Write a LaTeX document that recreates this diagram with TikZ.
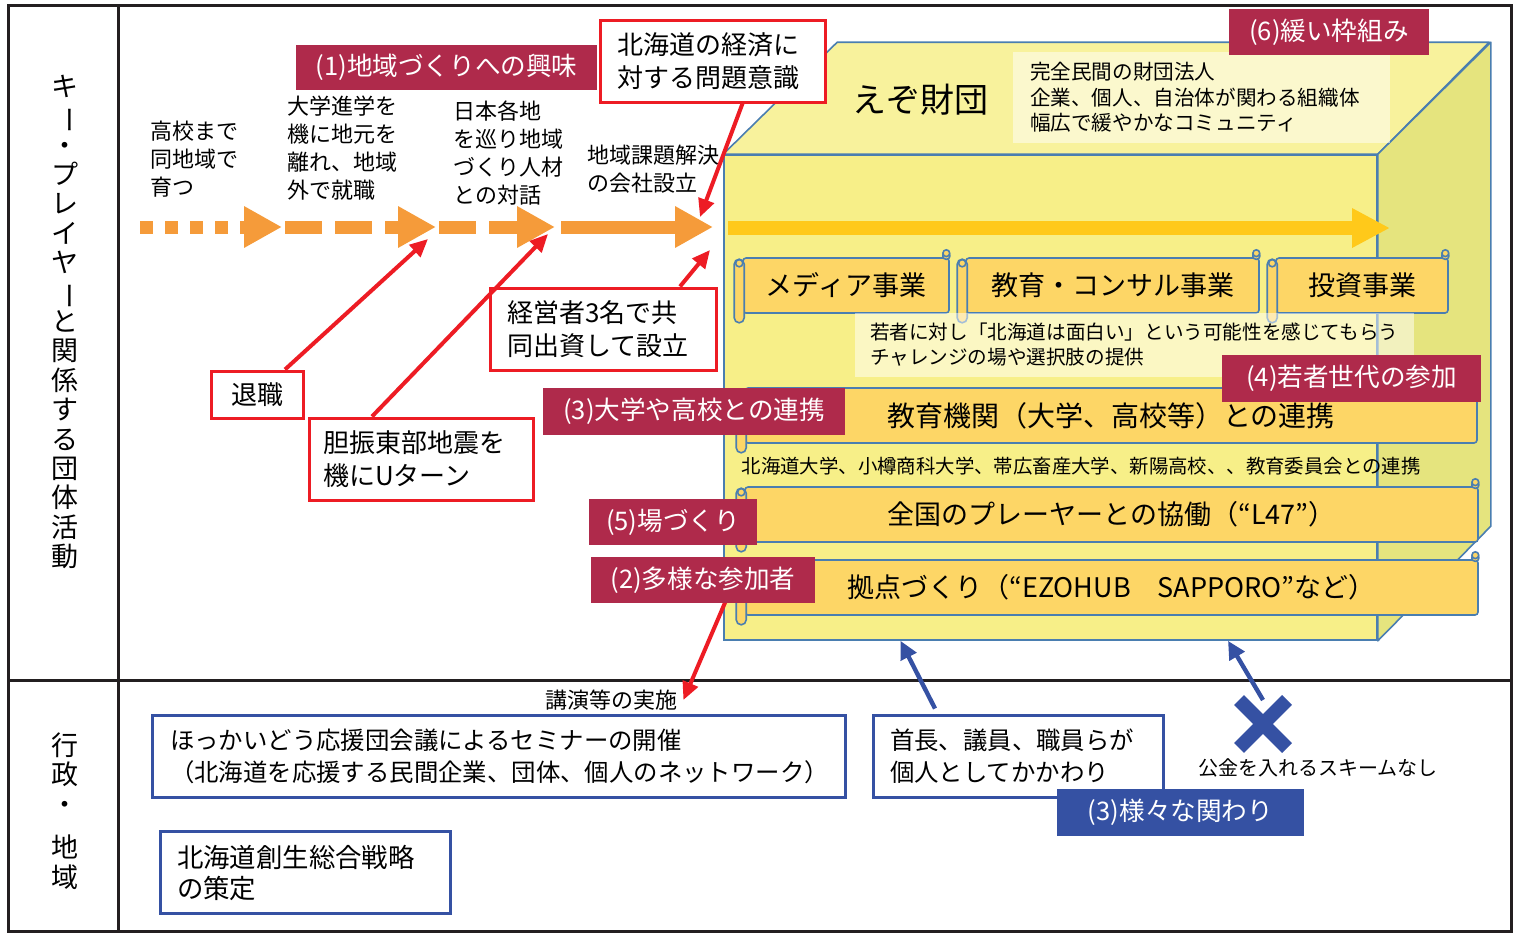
\documentclass[tikz,border=0pt]{standalone}
\usepackage{fontspec}
\setmainfont{Noto Sans CJK JP}
\usepackage{graphicx}
\usepackage{tikz}
\usetikzlibrary{arrows.meta, shapes.misc}
\usepackage{xcolor}
\definecolor{FrameBlack}{RGB}{35, 31, 32}
\definecolor{FlowOrange}{RGB}{245, 155, 58}
\definecolor{TagRed}{RGB}{175, 42, 75}
\definecolor{KeyRed}{RGB}{237, 28, 36}
\definecolor{GovBlue}{RGB}{53, 81, 163}
\definecolor{EdgeBlue}{RGB}{74, 126, 176}
\definecolor{FrontYellow}{RGB}{247, 239, 136}
\definecolor{TopYellow}{RGB}{248, 242, 156}
\definecolor{SideYellow}{RGB}{229, 228, 126}
\definecolor{ScrollGold}{RGB}{253, 214, 102}
\definecolor{ArrowGold}{RGB}{255, 201, 26}
\newcommand{\fsize}[2]{\fontsize{#1}{#2}\selectfont}
\newcommand{\vchoon}{\rotatebox[origin=c]{-90}{ー}}
\newcommand{\scrollends}[1]{%
  \draw [scroll_part, rounded corners=2.5pt]
    ([xshift=-4pt, yshift=-1pt]#1.north west)
    rectangle
    ([xshift=1pt, yshift=-4.5pt]#1.south west);
  \draw [scroll_part]
    ([xshift=-1.5pt, yshift=-3pt]#1.north west) circle (1.8pt);
  \draw [scroll_part, rounded corners=1.5pt]
    ([xshift=-3.5pt, yshift=-1pt]#1.north east)
    rectangle
    ([yshift=2.5pt]#1.north east);
  \draw [scroll_part]
    ([xshift=-1.75pt, yshift=2pt]#1.north east) circle (1.7pt);
}
\tikzset{%
  frame_line/.style={%
    draw=FrameBlack,%
    line width=1.5pt,%
  },
  side_label/.style={%
    align=center,%
    inner sep=0pt,%
    font={\fsize{13.5}{14.7}},%
  },
  flow_text/.style={%
    anchor=west,%
    align=left,%
    inner sep=0pt,%
    font={\fsize{11}{14}},%
  },
  flow_arrow/.style={%
    draw=FlowOrange,%
    line width=6.5pt,%
    -{Triangle[length=19pt, width=19.5pt]},%
  },
  gold_arrow/.style={%
    draw=ArrowGold,%
    line width=7pt,%
    -{Triangle[length=19pt, width=18.5pt]},%
  },
  box_front/.style={%
    rectangle,%
    draw=EdgeBlue,%
    line width=0.8pt,%
    fill=FrontYellow,%
    minimum width=326.5pt,%
    minimum height=242.5pt,%
    inner sep=0pt,%
  },
  box_face/.style={%
    draw=EdgeBlue,%
    line width=0.8pt,%
    line join=round,%
  },
  note_box/.style={%
    rectangle,%
    fill=white,%
    fill opacity=0.5,%
    text opacity=1,%
    align=left,%
    inner ysep=0pt,%
  },
  scroll_body/.style={%
    rectangle,%
    rounded corners=1.5pt,%
    draw=EdgeBlue,%
    line width=0.8pt,%
    fill=ScrollGold,%
    minimum height=27.5pt,%
    inner sep=0pt,%
    font={\fsize{13.5}{16}},%
  },
  scroll_part/.style={%
    draw=EdgeBlue,%
    line width=0.8pt,%
    fill=ScrollGold,%
  },
  theme_tag/.style={%
    rectangle,%
    fill=TagRed,%
    text=white,%
    inner sep=0pt,%
    font={\fsize{12.8}{15}},%
  },
  gov_tag/.style={%
    theme_tag,%
    fill=GovBlue,%
  },
  key_box/.style={%
    rectangle,%
    draw=KeyRed,%
    line width=1.5pt,%
    fill=white,%
    align=left,%
    inner ysep=0pt,%
    font={\fsize{13}{16.5}},%
  },
  gov_box/.style={%
    rectangle,%
    draw=GovBlue,%
    line width=1.5pt,%
    fill=white,%
    align=left,%
    inner ysep=0pt,%
    minimum height=41pt,%
    font={\fsize{12.2}{16}},%
  },
  key_arrow/.style={%
    draw=KeyRed,%
    line width=2pt,%
    -{Triangle[length=9pt, width=8pt]},%
  },
  gov_arrow/.style={%
    draw=GovBlue,%
    line width=2.2pt,%
    -{Triangle[length=9pt, width=8.5pt]},%
  },
  refusal_mark/.style={%
    cross out,%
    draw=GovBlue,%
    line width=7pt,%
    minimum size=17pt,%
    inner sep=0pt,%
  },
  small_note/.style={%
    inner sep=0pt,%
    font={\fsize{10}{12}},%
  },
}

\begin{document}
\begin{tikzpicture}[x=0.5pt, y=-0.5pt]
  \useasboundingbox (0, 0) rectangle (1519, 933);

  \draw [frame_line] (8, 5) rectangle (1511, 931);
  \draw [frame_line] (118, 5) -- (118, 931);
  \draw [frame_line] (8, 680) -- (1511, 680);

  \node [side_label] (KeyLabel) at (65, 322)
    {キ\\\vchoon\\・\\プ\\レ\\イ\\ヤ\\\vchoon\\と\\関\\係\\す\\る\\団\\体\\活\\動};
  \node [side_label] (GovLabel) at (65, 811) {行\\政\\・\\[7pt]地\\域};

  \node [flow_text] (StepHome) at (150, 159) {高校まで\\同地域で\\育つ};
  \node [flow_text] (StepLeave) at (287, 148) {大学進学を\\機に地元を\\離れ、地域\\外で就職};
  \node [flow_text] (StepTalk) at (453, 153.5) {日本各地\\を巡り地域\\づくり人材\\との対話};
  \node [flow_text] (StepFound) at (587, 169.5) {地域課題解決\\の会社設立};

  \coordinate (FlowStart) at (140, 227);
  \coordinate (FlowA) at (282, 227);
  \coordinate (FlowB) at (436, 227);
  \coordinate (FlowC) at (555, 227);
  \coordinate (FlowD) at (713, 227);

  \draw [flow_arrow, dash pattern=on 6.5pt off 6pt] (FlowStart) -- (FlowA);
  \draw [flow_arrow, dash pattern=on 18.5pt off 6.5pt] ([xshift=1.5pt]FlowA) -- (FlowB);
  \draw [flow_arrow, dash pattern=on 18.5pt off 6.5pt] ([xshift=1.5pt]FlowB) -- (FlowC);
  \draw [flow_arrow] ([xshift=3pt]FlowC) -- (FlowD);

  \node [box_front] (EzoFront) at (1050.5, 397.5) {};
  \draw [box_face, fill=TopYellow]
    (EzoFront.north west)
    -- ++(114, -112)
    -- ++(652, 0)
    -- (EzoFront.north east)
    -- cycle;
  \draw [box_face, fill=SideYellow]
    (EzoFront.north east)
    -- ++(113, -112)
    -- ++(0, 484)
    -- (EzoFront.south east)
    -- cycle;

  \node [note_box, inner xsep=8.5pt, text width=171.5pt, minimum height=45.5pt,
    font={\fsize{10.3}{12.8}}] (FoundationNote) at (1201.5, 97.5)
    {完全民間の財団法人\\企業、個人、自治体が関わる組織体\\幅広で緩やかなコミュニティ};
  \node [font={\fsize{17}{20}}] (EzoTitle) at (920, 100) {えぞ財団};

  \coordinate (GoldStart) at (728, 228);
  \coordinate (GoldEnd) at (1390, 228);
  \draw [gold_arrow] (GoldStart) -- (GoldEnd);

  \node [scroll_body, minimum width=103pt] (Media) at (846, 285.5) {メディア事業};
  \scrollends{Media}
  \node [scroll_body, minimum width=146.5pt] (Consult) at (1112.5, 285.5) {教育・コンサル事業};
  \scrollends{Consult}
  \node [scroll_body, minimum width=86pt] (InvestBiz) at (1362, 285.5) {投資事業};
  \scrollends{InvestBiz}
  \node [scroll_body, minimum width=366pt, font={\fsize{14}{16}}] (School) at (1111, 415.5)
    {教育機関（大学、高校等）との連携};
  \scrollends{School}
  \node [scroll_body, minimum width=366.5pt] (Nation) at (1111.5, 514.5)
    {全国のプレーヤーとの協働（“L47”）};
  \scrollends{Nation}
  \node [scroll_body, minimum width=366.5pt] (Hub) at (1111.5, 587.5)
    {拠点づくり（“EZOHUB　SAPPORO”など）};
  \scrollends{Hub}

  \node [note_box, inner xsep=7.5pt, text width=264.5pt, minimum height=32pt,
    font={\fsize{9.8}{12.5}}] (YouthNote) at (1134.5, 345)
    {若者に対し「北海道は面白い」という可能性を感じてもらう\\チャレンジの場や選択肢の提供};
  \node [small_note, font={\fsize{9.7}{12}}] (UnivNote) at (1081, 466)
    {北海道大学、小樽商科大学、帯広畜産大学、新陽高校、、教育委員会との連携};

  \node [small_note, font={\fsize{11}{13}}] (Lecture) at (611, 700) {講演等の実施};
  \coordinate (ActorsFoot) at (727, 598);
  \draw [key_arrow]
    (ActorsFoot)
    --
    ([xshift=3pt]Lecture.east);

  \node [theme_tag, minimum width=150.5pt, minimum height=22.5pt] (TagInterest) at (446.5, 67.5)
    {(1)地域づくりへの興味};
  \node [theme_tag, minimum width=100pt, minimum height=23pt] (TagLoose) at (1329, 32)
    {(6)緩い枠組み};
  \node [theme_tag, minimum width=151pt, minimum height=23.5pt] (TagSchool) at (694, 411.5)
    {(3)大学や高校との連携};
  \node [theme_tag, minimum width=129.5pt, minimum height=23.5pt] (TagYouth) at (1351.5, 378.5)
    {(4)若者世代の参加};
  \node [theme_tag, minimum width=84pt, minimum height=23pt] (TagPlace) at (673, 522)
    {(5)場づくり};
  \node [theme_tag, minimum width=112pt, minimum height=23pt] (TagActors) at (703, 580)
    {(2)多様な参加者};

  \node [key_box, inner xsep=8.5pt, text width=95.5pt, minimum height=41pt] (Issue) at (712.5, 61)
    {北海道の経済に\\対する問題意識};
  \node [key_box, inner xsep=8.5pt, text width=96pt, minimum height=41pt] (Invest) at (603, 329)
    {経営者3名で共\\同出資して設立};
  \node [key_box, align=center, inner xsep=0pt, minimum width=46pt, minimum height=23.5pt] (Retire)
    at (257, 394.5) {退職};
  \node [key_box, inner xsep=7pt, text width=98pt, minimum height=41pt] (Quake) at (421, 459)
    {胆振東部地震を\\機にUターン};

  \draw [key_arrow]
    ([xshift=15pt]Issue.south)
    --
    ([xshift=-6.5pt, yshift=5pt]FlowD);
  \draw [key_arrow]
    ([xshift=38.5pt]Invest.north)
    --
    ([xshift=-1.5pt, yshift=-11.5pt]FlowD);
  \draw [key_arrow]
    ([xshift=14pt]Retire.north)
    --
    ([xshift=-4pt, yshift=-6pt]FlowB);
  \draw [key_arrow]
    ([xshift=-24.5pt]Quake.north)
    --
    ([xshift=-3.5pt, yshift=-3.5pt]FlowC);

  \node [gov_box, inner xsep=9pt, text width=328.5pt] (Seminar) at (498.5, 756)
    {ほっかいどう応援団会議によるセミナーの開催\\（北海道を応援する民間企業、団体、個人のネットワーク）};
  \node [gov_box, inner xsep=8.5pt, text width=128pt] (Staff) at (1018, 756)
    {首長、議員、職員らが\\個人としてかかわり};
  \node [gov_box, inner xsep=8.5pt, text width=128pt, font={\fsize{13.2}{15.5}}] (Strategy)
    at (305, 872.5) {北海道創生総合戦略\\の策定};
  \node [gov_tag, minimum width=123.5pt, minimum height=23.5pt] (TagRelation) at (1180.5, 812.5)
    {(3)様々な関わり};

  \node [refusal_mark] (NoFund) at (1263, 724) {};
  \node [small_note] (NoFundNote) at (1318, 768) {公金を入れるスキームなし};

  \draw [gov_arrow]
    ([xshift=-41.5pt, yshift=2.5pt]Staff.north)
    --
    ([xshift=-75pt]EzoFront.south);
  \draw [gov_arrow]
    (NoFund.north)
    --
    ([xshift=88.75pt]EzoFront.south);
\end{tikzpicture}
\end{document}
